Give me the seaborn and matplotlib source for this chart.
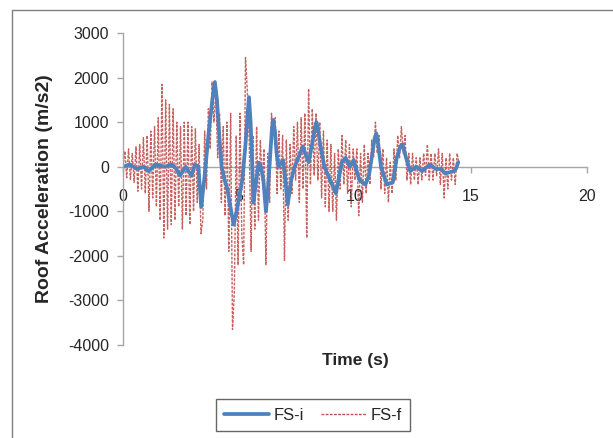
import numpy as np
import pandas as pd
import matplotlib
matplotlib.use("Agg")
import matplotlib.pyplot as plt
import seaborn as sns
from matplotlib.patches import Rectangle
from matplotlib.lines import Line2D

# ---- data ----
fs_i_time = [0.0, 0.3, 0.6, 0.9, 1.1, 1.4, 1.8, 2.1, 2.3, 2.45, 2.7, 2.95, 3.1, 3.25,
             3.37, 3.5, 3.7, 3.85, 3.96, 4.05, 4.15, 4.25, 4.38, 4.5, 4.63, 4.77, 4.9,
             5.0, 5.14, 5.28, 5.36, 5.43, 5.5, 5.56, 5.62, 5.72, 5.85, 5.95, 6.05,
             6.16, 6.25, 6.35, 6.42, 6.47, 6.55, 6.62, 6.7, 6.9, 7.0, 7.1, 7.25, 7.4,
             7.75, 8.0, 8.15, 8.28, 8.34, 8.42, 8.5, 8.68, 8.93, 9.18, 9.43, 9.6,
             9.77, 9.94, 10.19, 10.45, 10.6, 10.75, 10.85, 10.92, 11.0, 11.12, 11.37,
             11.63, 11.8, 11.95, 12.05, 12.2, 12.38, 12.64, 12.89, 13.23, 13.48, 13.7,
             13.9, 14.24, 14.35, 14.45]
fs_i_acc = [0, 50, -50, 0, -100, 50, 0, 50, -50, -200, 0, -200, 50, 0,
            -900, -300, 800, 1500, 1900, 1500, 700, 0, -300, -500, -900, -1300, -1000,
            -700, -300, 500, 1100, 1560, 1000, 200, -800, -400, 90, 0, -300,
            -1000, -500, 300, 850, 1050, 800, 300, 0, 150, -300, -850, -300, 0,
            450, 100, 500, 900, 1000, 800, 500, 0, -300, -600, 100, 200,
            0, 150, -300, -400, -200, 300, 650, 750, 500, 0, -400,
            -350, 200, 450, 500, 200, -100, 0, -100, 50, -50, -50,
            -150, -100, -50, 100]

# FS-f sampled every 0.08 s
fs_f_acc = [
    # 0.00 - 1.92 s
    0, 350, -250, 400, -300, 300, -350, 450, -550, 500, -500, 650, -600,
    700, -1000, 800, -700, 900, -900, 1100, -1200, 1850, -1600, 1500, -1400,
    # 2.00 - 3.92 s
    1400, -1300, 1300, -1200, 1000, -900, 900, -1400, 1000, -1100, 1000, -1300, 900,
    -1000, 850, -800, 500, -1500, -1200, 800, -500, 1300, 400, 1900, 1000,
    # 4.00 - 5.92 s
    1700, 200, 1200, -800, 900, -1100, 1000, -1900, 1200, -3650, -2800, 700, -2200,
    1200, -1500, -2200, 2450, 1700, 600, -1900, 700, -1400, 900, -1200, 600,
    # 6.00 - 7.92 s
    -300, 400, -2200, 300, -800, 1200, 700, 1100, -600, 800, -500, 700, -2100,
    600, -1200, 500, -600, 900, -300, 1000, -800, 1100, -500, 1200, -1600,
    # 8.00 - 9.92 s
    1750, -400, 1300, -200, 1200, -300, 1000, -700, 800, -900, 600, -1000, 500,
    -1000, 300, -1200, 400, -500, 700, -400, 600, -600, 500, -900, 400,
    # 10.00 - 11.92 s
    -300, 400, -1100, 300, -800, 500, -600, 300, -400, 600, 200, 1000, 300,
    700, -500, 400, -600, 200, -800, 100, -600, 400, -300, 700, 200,
    # 12.00 - 13.92 s
    900, 300, 700, -300, 300, -400, 300, -300, 200, -400, 200, -300, 300,
    -200, 500, -300, 300, -300, 300, -200, 400, -400, 300, -700, 200,
    # 14.00 - 14.48 s
    -500, 300, -300, 200, -400, 300, 100,
]
fs_f_time = [round(0.08 * k, 2) for k in range(len(fs_f_acc))]

x_ticks = [0, 5, 10, 15, 20]
y_ticks = [-4000, -3000, -2000, -1000, 0, 1000, 2000, 3000]
series_names = ["FS-i", "FS-f"]

df_i = pd.DataFrame({"Time": fs_i_time, "Acc": fs_i_acc})
df_f = pd.DataFrame({"Time": fs_f_time, "Acc": fs_f_acc})

sns.set_style("white")
plt.rcParams["font.family"] = ["Liberation Sans", "DejaVu Sans"]

blue = "#4F81BD"
red = "#C0504D"
red_ls = (0, (2.0, 1.0))

fig = plt.figure(figsize=(6.13, 4.38), dpi=100)
ax = fig.add_axes([123 / 613, 1 - 345 / 438, (587 - 123) / 613, (345 - 33) / 438])

sns.lineplot(data=df_f, x="Time", y="Acc", ax=ax, color=red, linewidth=1.0,
             linestyle=red_ls, estimator=None, sort=False, alpha=0.9)
sns.lineplot(data=df_i, x="Time", y="Acc", ax=ax, color=blue, linewidth=2.7,
             estimator=None, sort=False, solid_joinstyle="round", solid_capstyle="round")

ax.set_xlim(0, 20)
ax.set_ylim(-4000, 3000)
ax.set_xticks(x_ticks)
ax.set_yticks(y_ticks)
ax.set_xticklabels([str(v) for v in x_ticks])
ax.set_yticklabels([str(v) for v in y_ticks])

for s in ["top", "right"]:
    ax.spines[s].set_visible(False)
ax.spines["bottom"].set_position(("data", 0))
ax.spines["left"].set_color("#a6a6a6")
ax.spines["bottom"].set_color("#a6a6a6")
ax.spines["left"].set_linewidth(1.0)
ax.spines["bottom"].set_linewidth(1.0)
ax.spines["bottom"].set_zorder(0.5)
ax.tick_params(axis="y", direction="out", length=4, width=1, color="#a6a6a6", pad=6,
               left=True, labelsize=11.5)
ax.tick_params(axis="x", direction="out", length=4, width=1, color="#a6a6a6", pad=12,
               bottom=True, labelsize=11.5)

ax.set_xlabel("")
ax.set_ylabel("")
fig.text(355 / 613, 1 - 361 / 438, "Time (s)", ha="center", va="center",
         fontsize=12.5, fontweight="bold")
fig.text(45 / 613, 1 - 189 / 438, "Roof Acceleration (m/s2)", ha="center", va="center",
         rotation=90, fontsize=14, fontweight="bold")

handles = [Line2D([], [], color=blue, linewidth=2.7),
           Line2D([], [], color=red, linewidth=1.0, linestyle=red_ls)]
leg = fig.legend(handles, series_names, loc="center", ncol=2,
                 bbox_to_anchor=(313 / 613, 1 - 415 / 438), frameon=True, fancybox=False,
                 fontsize=12, handlelength=2.7, columnspacing=1.0, handletextpad=0.3,
                 borderpad=0.5, borderaxespad=0)
leg.get_frame().set_edgecolor("#404040")
leg.get_frame().set_linewidth(1.0)

# outer chart-area border
fig.patches.append(Rectangle((12 / 613, -0.2), 1.2, 1.2 - 10 / 438, transform=fig.transFigure,
                             fill=False, edgecolor="#808080", linewidth=1.0, clip_on=False))

fig.savefig("out.png", dpi=100)
